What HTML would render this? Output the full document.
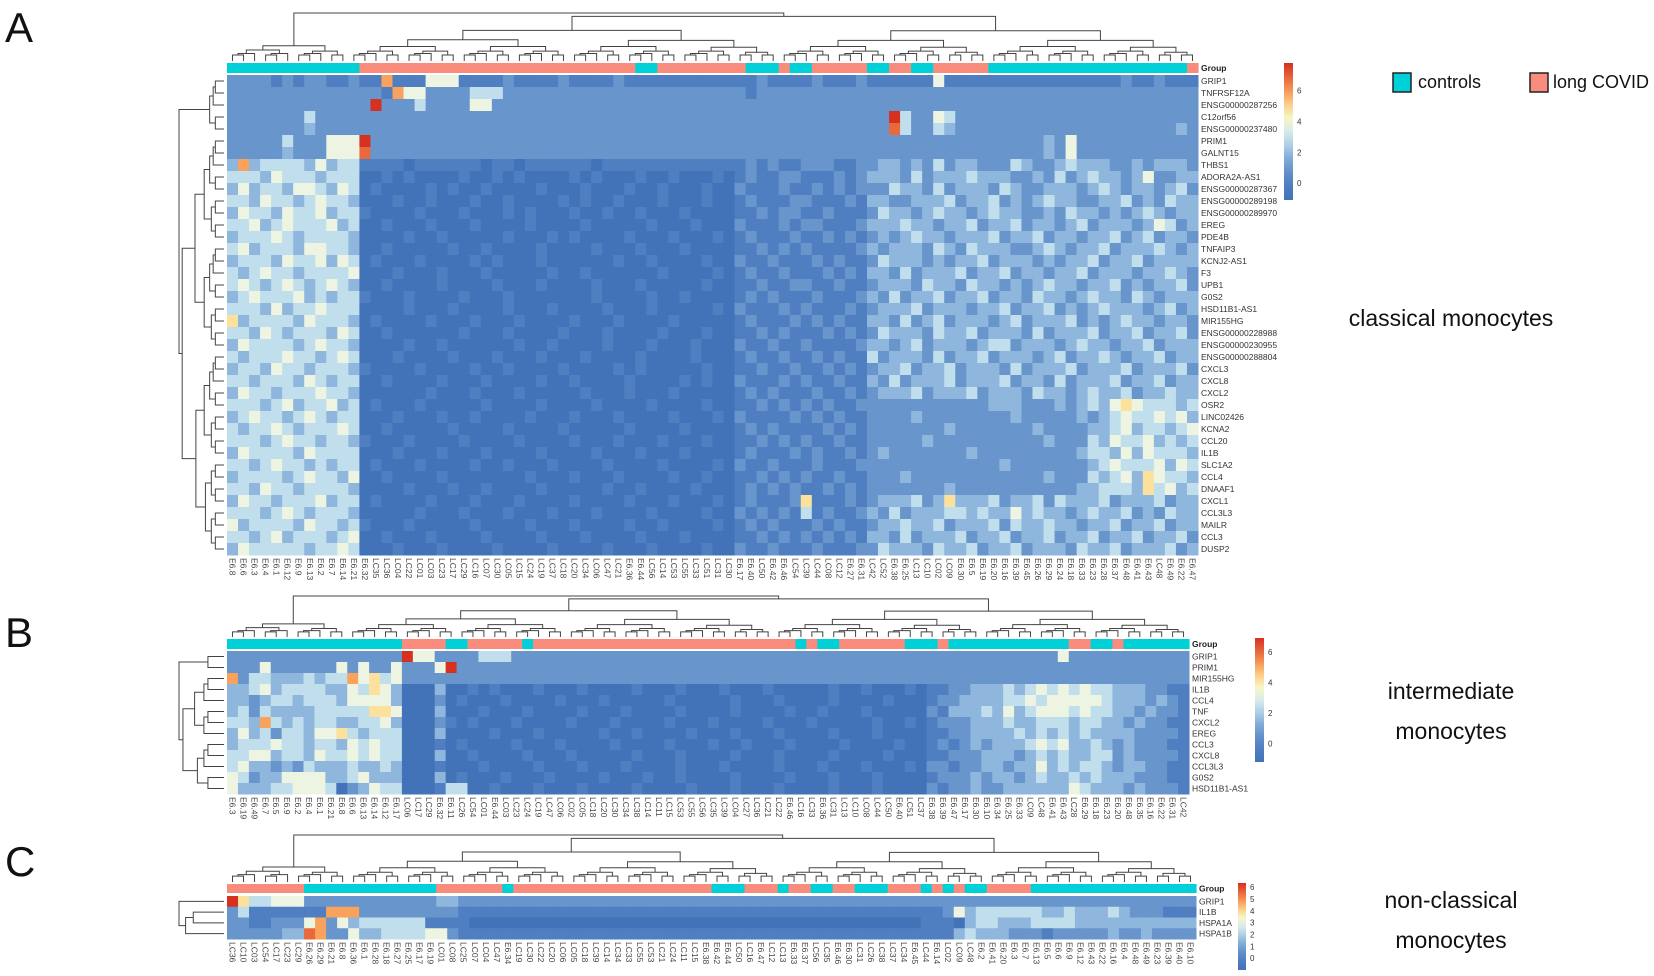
<!DOCTYPE html>
<html><head><meta charset="utf-8"><title>Monocyte heatmaps</title>
<style>
html,body{margin:0;padding:0;background:#fff;}
svg{display:block;font-family:"Liberation Sans",sans-serif;}
</style></head>
<body>
<svg id="fig" width="1654" height="976" viewBox="0 0 1654 976" xmlns="http://www.w3.org/2000/svg">
<rect x="0" y="0" width="1654" height="976" fill="#fff"/>
<text x="5" y="42" font-size="42" fill="#111">A</text>
<text x="5" y="647" font-size="42" fill="#111">B</text>
<text x="5" y="876" font-size="42" fill="#111">C</text>
<g>
<rect x="1393" y="73" width="18" height="19" fill="#00d1d8" stroke="#222" stroke-width="1.5"/>
<text x="1418" y="88" font-size="18" fill="#111">controls</text>
<rect x="1530" y="73" width="18" height="19" fill="#fa8c7d" stroke="#222" stroke-width="1.5"/>
<text x="1553" y="88" font-size="18" fill="#111">long COVID</text>
</g>
<text x="1451" y="326" font-size="23" text-anchor="middle" fill="#111">classical monocytes</text>
<text x="1451" y="699" font-size="23" text-anchor="middle" fill="#111">intermediate</text>
<text x="1451" y="739" font-size="23" text-anchor="middle" fill="#111">monocytes</text>
<text x="1451" y="908" font-size="23" text-anchor="middle" fill="#111">non-classical</text>
<text x="1451" y="948" font-size="23" text-anchor="middle" fill="#111">monocytes</text>
</svg>
<script>
// ---------- Panel A data ----------
const rowsA = ["GRIP1","TNFRSF12A","ENSG00000287256","C12orf56","ENSG00000237480","PRIM1","GALNT15","THBS1","ADORA2A-AS1","ENSG00000287367","ENSG00000289198","ENSG00000289970","EREG","PDE4B","TNFAIP3","KCNJ2-AS1","F3","UPB1","G0S2","HSD11B1-AS1","MIR155HG","ENSG00000228988","ENSG00000230955","ENSG00000288804","CXCL3","CXCL8","CXCL2","OSR2","LINC02426","KCNA2","CCL20","IL1B","SLC1A2","CCL4","DNAAF1","CXCL1","CCL3L3","MAILR","CCL3","DUSP2"];
const colsA = ["E6.8","E6.6","E6.3","E6.4","E6.1","E6.12","E6.9","E6.13","E6.2","E6.7","E6.14","E6.21","E6.32","LC35","LC36","LC04","LC22","LC01","LC03","LC23","LC17","LC29","LC16","LC07","LC30","LC05","LC15","LC24","LC19","LC37","LC18","LC20","LC34","LC06","LC47","LC21","E6.36","E6.44","LC56","LC14","LC53","LC55","LC33","LC51","LC31","LC30","E6.17","E6.40","LC50","E6.42","E6.46","LC54","LC39","LC44","LC08","LC12","E6.27","E6.31","LC42","LC52","E6.38","E6.25","LC13","LC10","LC02","LC09","E6.30","E6.5","E6.19","E6.20","E6.16","E6.39","E6.45","E6.26","E6.29","E6.24","E6.18","E6.33","E6.23","E6.28","E6.37","E6.48","E6.41","E6.43","LC48","E6.49","E6.22","E6.47"];
const groupA = "cccccccccccclllllllllllllllllllllllllccllllllllccclcclllllccllcclllllcccccccccccccccccclccc";
// digit levels 0..9 (0 = lowest expression, 9 = highest)
const valuesA = [
"222212122112"+"1171115551111211112111121111111111"+"112111121112"+"111111511111111111111112112111",
"222222222222"+"2217552222444222222222222222222222"+"212222222222"+"222222222222222222222222222222",
"222222222222"+"2922242222552222222222222222222222"+"222222222222"+"222222222222222222222222222222",
"222222242222"+"2222222222222222222222222222222222"+"222222222222"+"229422542222222222222222222222",
"222222232222"+"2222222222222222222222222222222222"+"222222222222"+"228422432222222222222222222232",
"222224222555"+"9222222222222222222222222222222222"+"222222222222"+"222222222222222232522222222222",
"222223222555"+"8222222222222222222222222222222222"+"222222222222"+"222222222222222232522222222222",
"373444435344"+"1111011111101101111110111111111111"+"121211222112"+"233232423322243223433322323332",
"444354443444"+"0010100001001010000101000100100010"+"121122111212"+"333242333433322324234332352233",
"353443554354"+"0100001010010000100010001001000100"+"211121121212"+"224332423332432233323432332342",
"443544345443"+"0001001000100100001010010001000100"+"121112211121"+"332233342334232343322334232433",
"354435445344"+"1000010001000101000100100100010000"+"112122112111"+"243323433234332232433232343233",
"445345444534"+"0010001000100001000010000010001000"+"211121221112"+"333433233423342332342333235423",
"344454344443"+"0000100100000100010100001000100010"+"121112112121"+"232343323334233423323342342332",
"453444355443"+"0010000010010000100001000100010000"+"112121211112"+"323332432433322343233423334323",
"344435445354"+"0100010000101000100000010010000100"+"211211121211"+"243332323342333232334233423333",
"434544344445"+"0001000100010000010010000001000010"+"121121112121"+"332423334233423323342333233432",
"454345434543"+"0010000100001000100001000100000100"+"112112211211"+"233324332433232343323342323342",
"345444534344"+"1000100001000100000001000010010000"+"121211121112"+"324233423342332433234332432333",
"444353445444"+"0000100010000100010000100010000010"+"211121211121"+"233342333233423342323433323423",
"634444354443"+"0100001000100010000100010000100000"+"121112121211"+"332423423332342333423234332332",
"443543444354"+"0010000001000100001000100001000100"+"112121112121"+"243332433423332423334233423342",
"354444345443"+"0000100100000010010000100010001000"+"211211211112"+"332342333234423332343323342333",
"434445443454"+"0001000010001000100010000100001000"+"121121121211"+"423332423342333234233432334233",
"344354434443"+"1000010000100100001000010100000100"+"112112112121"+"233423342333242333423334233342",
"443444354344"+"0010000100010000100100001000010100"+"211121211211"+"324233342333423324233342334233",
"354434445443"+"0000001000100010000010001000100000"+"121211121121"+"233342333423332433234334233433",
"444345344534"+"0100010000010000100001000010000100"+"112121212112"+"222222222223332223234356544434",
"345443454344"+"0001000100100001000100010000100010"+"211112121211"+"222232222222232222232345445453",
"434454344454"+"0010000010000100001000001000010000"+"121211112121"+"222222232222222322223345344345",
"444345443443"+"1000100001000010000100010001000100"+"112121211211"+"222223222222222232224354453434",
"354444354444"+"0001000100010000100001000100010000"+"121112121121"+"232222222322222222234435354443",
"443454434344"+"0100010000100100010000100001000010"+"211211121112"+"222222222222322222223454445354",
"344443454435"+"0010000100000001000100010000100100"+"112121211211"+"222322222222222232224345365443",
"443544344443"+"0000100010010000100000100100001000"+"121212112121"+"222222232222222222233444364534",
"354434445344"+"0100001000100010000100001000100010"+"121112611121"+"233342363334233424333423334233",
"444345434443"+"0000010001000100010001000010000100"+"212121412112"+"324233344343353433234334232433",
"534444354434"+"1000100000100001000100001001000010"+"121211121211"+"233433423334243343323342334233",
"443453444345"+"0010001000010000100010000100010000"+"112121212121"+"332423334233423342334233423342",
"354444434454"+"0001000100001000010000100010000100"+"211211121112"+"243332433423342333243342333423"
];
// ---------- Panel B data ----------
const rowsB = ["GRIP1","PRIM1","MIR155HG","IL1B","CCL4","TNF","CXCL2","EREG","CCL3","CXCL8","CCL3L3","G0S2","HSD11B1-AS1"];
const colsB = ["E6.3","E6.19","E6.49","E6.7","E6.5","E6.9","E6.2","E6.4","E6.1","E6.21","E6.8","E6.6","E6.13","E6.14","E6.12","E6.17","LC06","LC17","LC29","E6.32","E6.11","LC26","LC54","LC01","E6.44","LC03","LC23","LC24","LC19","LC47","LC06","LC02","LC05","LC18","LC20","LC30","LC34","LC38","LC14","LC11","LC15","LC53","LC55","LC56","LC35","LC39","LC04","LC27","LC36","LC21","LC22","E6.46","LC16","LC33","E6.36","LC31","LC13","LC10","LC08","LC44","LC50","E6.40","LC51","LC37","E6.38","E6.39","E6.47","E6.17","E6.30","E6.10","E6.34","E6.25","E6.33","LC09","LC48","E6.41","E6.43","LC28","E6.29","E6.18","E6.23","E6.20","E6.48","E6.35","E6.16","E6.22","E6.31","LC42"];
const groupB = "ccccccccccccccccllllcclllllcllllllllllllllllllllllllclccllllllccclcccccccccccllcclccccccl";
const valuesB = [
"2222222222222222"+"955222244422222222222222222222222222222222222222"+"222222222222522222222222",
"2225222222525225"+"222592222222222222222222222222222222222222222222"+"222222222222222222222222",
"7244333434475645"+"222222222222222222222222222222222222222222222222"+"222222222222222222222222",
"3345344443354653"+"000300101000100010000100010001000100000100100010"+"112233343454545443332211",
"3323443444355553"+"000201000100001000100000100000100010000100001000"+"122333344545555543332321",
"3424333344444665"+"000300010001000010001000010000100001001000100000"+"213334353455545443323221",
"4437434344334453"+"000210100010000100010000100010000100010000010010"+"122233343344434433232211",
"3534244355643444"+"000300001000100000100100001000100010000100010000"+"112233334343434333322221",
"3444544344354544"+"000101000010001000010000100010010001000010000100"+"121232333454533432322211",
"4455344354454544"+"000300100001000100000100010000100010000100001000"+"112223332343433442322221",
"4533232433343343"+"000100010000100010001000010001000010001000100010"+"221223323353434432332211",
"5423355553345333"+"000301000100010000100010010000100001000100010000"+"122232332343343433322211",
"5333445554023544"+"000144001000100010000100001000100010000100010000"+"212232233333354333232221"
];
// ---------- Panel C data ----------
const rowsC = ["GRIP1","IL1B","HSPA1A","HSPA1B"];
const colsC = ["LC36","LC10","LC03","LC54","LC17","LC23","LC29","E6.26","E6.29","E6.21","E6.8","E6.36","E6.1","E6.28","E6.18","E6.27","E6.25","E6.17","E6.19","LC01","LC08","LC25","LC07","LC04","LC47","E6.34","LC19","LC30","LC22","LC20","LC06","LC05","LC18","LC39","LC14","LC34","LC33","LC55","LC53","LC21","LC24","LC11","LC15","E6.38","E6.42","E6.44","LC50","LC16","E6.47","LC12","LC13","E6.33","E6.37","LC56","LC35","E6.46","E6.30","LC31","LC26","LC38","LC37","LC34","E6.45","LC44","E6.14","LC02","LC09","LC48","E6.2","E6.41","E6.20","E6.3","E6.7","E6.13","E6.5","E6.6","E6.9","E6.12","E6.43","E6.22","E6.16","E6.4","E6.48","E6.49","E6.23","E6.39","E6.40","E6.10"];
const groupC = "lllllllccccccccccccllllllcllllllllllllllllllccclllcllccllccclllclclccllllccccccccccccccccccc";
const valuesC = [
"9644555"+"222222222222"+"332222"+"2222222222222222222222222222222222222222222"+"2222222222222222222222222",
"2411111"+"11777222222222"+"1111"+"1111111111111111111111111111111111111111"+"253444444334333432221111",
"2211222"+"57253444444"+"1111000000000000000000000000000000000000000001110"+"3443334444333333333334",
"2222233"+"8722533444455"+"2111111111111111111111111111111111111111111111"+"343332221222223223222"
];
// ---------- Colorbar ticks ----------
const ticksA = [0,2,4,6];
const ticksB = [0,2,4,6];
const ticksC = [0,1,2,3,4,5,6];

const NS = "http://www.w3.org/2000/svg";
const svg = document.getElementById('fig');
function mk(tag, attrs, parent){
  const e = document.createElementNS(NS, tag);
  for (const k in attrs) e.setAttribute(k, attrs[k]);
  (parent||svg).appendChild(e);
  return e;
}
const stops = [[0,[66,114,184]],[0.15,[84,130,196]],[0.3,[128,170,215]],[0.45,[196,224,238]],[0.55,[236,245,230]],[0.63,[253,246,179]],[0.78,[249,161,91]],[1,[214,48,32]]];
function cmap(t){
  t = Math.max(0, Math.min(1, t));
  for (let i=1;i<stops.length;i++){
    if (t <= stops[i][0]){
      const a = stops[i-1], b = stops[i];
      const f = (t-a[0])/(b[0]-a[0]);
      const c = a[1].map((v,j)=>Math.round(v+(b[1][j]-v)*f));
      return `rgb(${c[0]},${c[1]},${c[2]})`;
    }
  }
  return 'rgb(214,48,32)';
}
function fit(s, n, fill){ s = s.slice(0,n); while (s.length<n) s += fill; return s; }

function drawDendroTop(g, centers, yTop, yBot, orient){
  const N = centers.length;
  function node(lo, hi){
    if (lo === hi) return {p: centers[lo], h: 0};
    const size = hi-lo+1;
    let s;
    if (lo===0 && hi===N-1) s = Math.max(0, Math.round(N*0.13)-1);
    else s = lo + Math.floor((size-1)/2);
    const a = node(lo, s), b = node(s+1, hi);
    let h = Math.pow(size/N, 0.55);
    if (lo===0 && hi===N-1) h = 1;
    h = Math.max(h, Math.max(a.h, b.h) + 0.02);
    const L = yBot - (yBot-yTop)*h, la = yBot-(yBot-yTop)*a.h, lb = yBot-(yBot-yTop)*b.h;
    let d;
    if (orient==='top') d = `M${a.p},${la}V${L}H${b.p}V${lb}`;
    else d = `M${la},${a.p}H${L}V${b.p}H${lb}`;
    const p = mk('path',{d:d, fill:'none', stroke:'#444', 'stroke-width':1}, g);
    
    
    return {p:(a.p+b.p)/2, h:h};
  }
  node(0, N-1);
}

function panel(cfg){
  const g = mk('g', {});
  
  
  const nC = cfg.cols.length, nR = cfg.rows.length;
  const cw = (cfg.x1-cfg.x0)/nC, rh = (cfg.y1-cfg.y0)/nR;
  const xPos = i => cfg.x0 + i*cw;
  const yPos = r => cfg.y0 + r*rh;
  const grp = fit(cfg.group, nC, 'c');
  for (let i=0;i<nC;i++){
    const r = mk('rect',{x:xPos(i), y:cfg.gy0, width:cw+0.6, height:cfg.gy1-cfg.gy0, fill: grp[i]==='c' ? '#00d1d8' : '#fa8c7d'}, g);
    
    
  }
  const gl = mk('text',{x:cfg.x1+3, y:(cfg.gy0+cfg.gy1)/2+3, 'font-size':8.5, 'font-weight':'bold', fill:'#222'}, g);
  gl.textContent = 'Group';
  
  
  for (let r=0;r<nR;r++){
    const s = fit(cfg.values[r], nC, '2');
    for (let i=0;i<nC;i++){
      const v = parseInt(s[i],10);
      const c = mk('rect',{x:xPos(i), y:yPos(r), width:cw+0.5, height:rh+0.5, fill:cmap(v/9)}, g);
      
      
    }
    const t = mk('text',{x:cfg.x1+3, y:yPos(r)+rh/2+3, 'font-size':cfg.fs, fill:'#333'}, g);
    t.textContent = cfg.rows[r];
    
    
  }
  for (let i=0;i<nC;i++){
    const cx = xPos(i)+cw/2;
    const t = mk('text',{x:0, y:0, 'font-size':8.5, fill:'#444', transform:`translate(${cx-3},${cfg.y1+3}) rotate(90)`}, g);
    t.textContent = cfg.cols[i];
    
    
  }
  const centersX = cfg.cols.map((_,i)=>xPos(i)+cw/2);
  drawDendroTop(g, centersX, cfg.dTop, cfg.gy0-2, 'top');
  const centersY = cfg.rows.map((_,r)=>yPos(r)+rh/2);
  drawDendroTop(g, centersY, 179, cfg.x0-3, 'left');
  const cb = cfg.cb;
  const gradId = 'grad-' + cfg.name;
  const defs = mk('defs',{}, g);
  const lg = mk('linearGradient',{id:gradId, x1:0, y1:1, x2:0, y2:0}, defs);
  for (let k=0;k<=10;k++){ mk('stop',{offset:k/10, 'stop-color':cmap(k/10)}, lg); }
  const bar = mk('rect',{x:cb.x, y:cb.y0, width:cb.w, height:cb.y1-cb.y0, fill:`url(#${gradId})`}, g);
  
  
  const vy = v => cb.y1 - (v - cb.vmin)/(cb.vmax-cb.vmin)*(cb.y1-cb.y0);
  cfg.ticks.forEach(v=>{
    const t = mk('text',{x:cb.x+cb.w+4, y:vy(v)+3, 'font-size':8, fill:'#333'}, g);
    t.textContent = String(v);
    
    
  });
}

panel({name:'classical-monocytes-heatmap', rows:rowsA, cols:colsA, group:groupA, values:valuesA,
  x0:227, x1:1198, y0:75, y1:555, gy0:63, gy1:73, dTop:13, fs:8.5,
  cb:{x:1284, w:9, y0:63, y1:200, vmin:-1.1, vmax:7.8}, ticks:ticksA});
panel({name:'intermediate-monocytes-heatmap', rows:rowsB, cols:colsB, group:groupB, values:valuesB,
  x0:227, x1:1189, y0:651, y1:794, gy0:639, gy1:649, dTop:596, fs:8.5,
  cb:{x:1255, w:9, y0:638, y1:762, vmin:-1.2, vmax:6.9}, ticks:ticksB});
panel({name:'non-classical-monocytes-heatmap', rows:rowsC, cols:colsC, group:groupC, values:valuesC,
  x0:227, x1:1196, y0:896, y1:939, gy0:884, gy1:893, dTop:835, fs:8.5,
  cb:{x:1238, w:8, y0:883, y1:970, vmin:-1.0, vmax:6.35}, ticks:ticksC});
</script>
</body></html>
